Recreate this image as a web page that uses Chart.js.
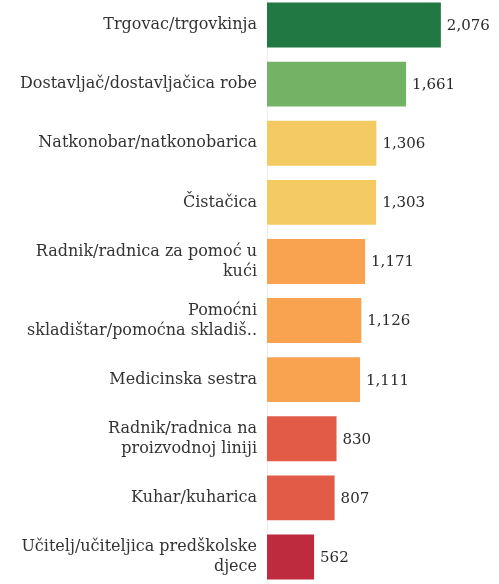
<!DOCTYPE html>
<html>
<head>
<meta charset="utf-8">
<script src="https://cdn.jsdelivr.net/npm/chart.js@4"></script>
<style>
  html, body { margin: 0; padding: 0; background: #fff; }
  #wrap { width: 499px; height: 584px; position: relative; }
</style>
</head>
<body>
<div id="wrap"><canvas id="jobs-chart"></canvas></div>
<script>
let categories = [
    "Trgovac/trgovkinja",
    "Dostavljač/dostavljačica robe",
    "Natkonobar/natkonobarica",
    "Čistačica",
    ["Radnik/radnica za pomoć u", "kući"],
    ["Pomoćni", "skladištar/pomoćna skladiš.."],
    "Medicinska sestra",
    ["Radnik/radnica na", "proizvodnoj liniji"],
    "Kuhar/kuharica",
    ["Učitelj/učiteljica predškolske", "djece"]
]
let counts = [2076, 1661, 1306, 1303, 1171, 1126, 1111, 830, 807, 562]
let barColors = ["#217842", "#74b365", "#f4cb62", "#f4cb62", "#f9a250", "#f9a250", "#f9a250", "#e15b47", "#e15b47", "#be2a3e"]

let fontFamily = "'DejaVu Serif', 'Liberation Serif', serif"

// the category band runs a few pixels past the canvas edges in the original
let stretchY = {
    id: "stretchY",
    afterLayout(chart) {
        let y = chart.scales.y
        y.top = -4.5
        y.bottom = 586.5
        y.height = y.bottom - y.top
        y.configure()
    }
}

let valueLabels = {
    id: "valueLabels",
    afterDatasetsDraw(chart) {
        let ctx = chart.ctx
        let meta = chart.getDatasetMeta(0)
        ctx.save()
        ctx.font = "15px " + fontFamily
        ctx.fillStyle = "#2b2b2b"
        ctx.textAlign = "left"
        ctx.textBaseline = "middle"
        meta.data.forEach((bar, i) => {
            ctx.fillText(counts[i].toLocaleString("en-US"), bar.x + 6, bar.y + 1)
        })
        ctx.restore()
    }
}

let canvas = document.querySelector("#jobs-chart")
let ctx = canvas.getContext("2d")

let chart = new Chart(ctx, {
    type: "bar",
    data: {
        labels: categories,
        datasets: [{
            data: counts,
            backgroundColor: barColors,
            categoryPercentage: 1,
            barPercentage: 0.76
        }]
    },
    options: {
        indexAxis: "y",
        responsive: true,
        maintainAspectRatio: false,
        animation: false,
        plugins: {
            legend: { display: false },
            tooltip: { enabled: false }
        },
        scales: {
            x: {
                display: false,
                min: 0,
                max: 2770
            },
            y: {
                grid: { display: false },
                border: { display: true, color: "#ececec" },
                ticks: {
                    color: "#333",
                    padding: 2,
                    font: { family: fontFamily, size: 16, lineHeight: 1.25 }
                },
                afterFit(scale) {
                    scale.width = 267
                    scale.paddingTop = 0
                    scale.paddingBottom = 0
                }
            }
        }
    },
    plugins: [stretchY, valueLabels]
})
</script>
</body>
</html>
